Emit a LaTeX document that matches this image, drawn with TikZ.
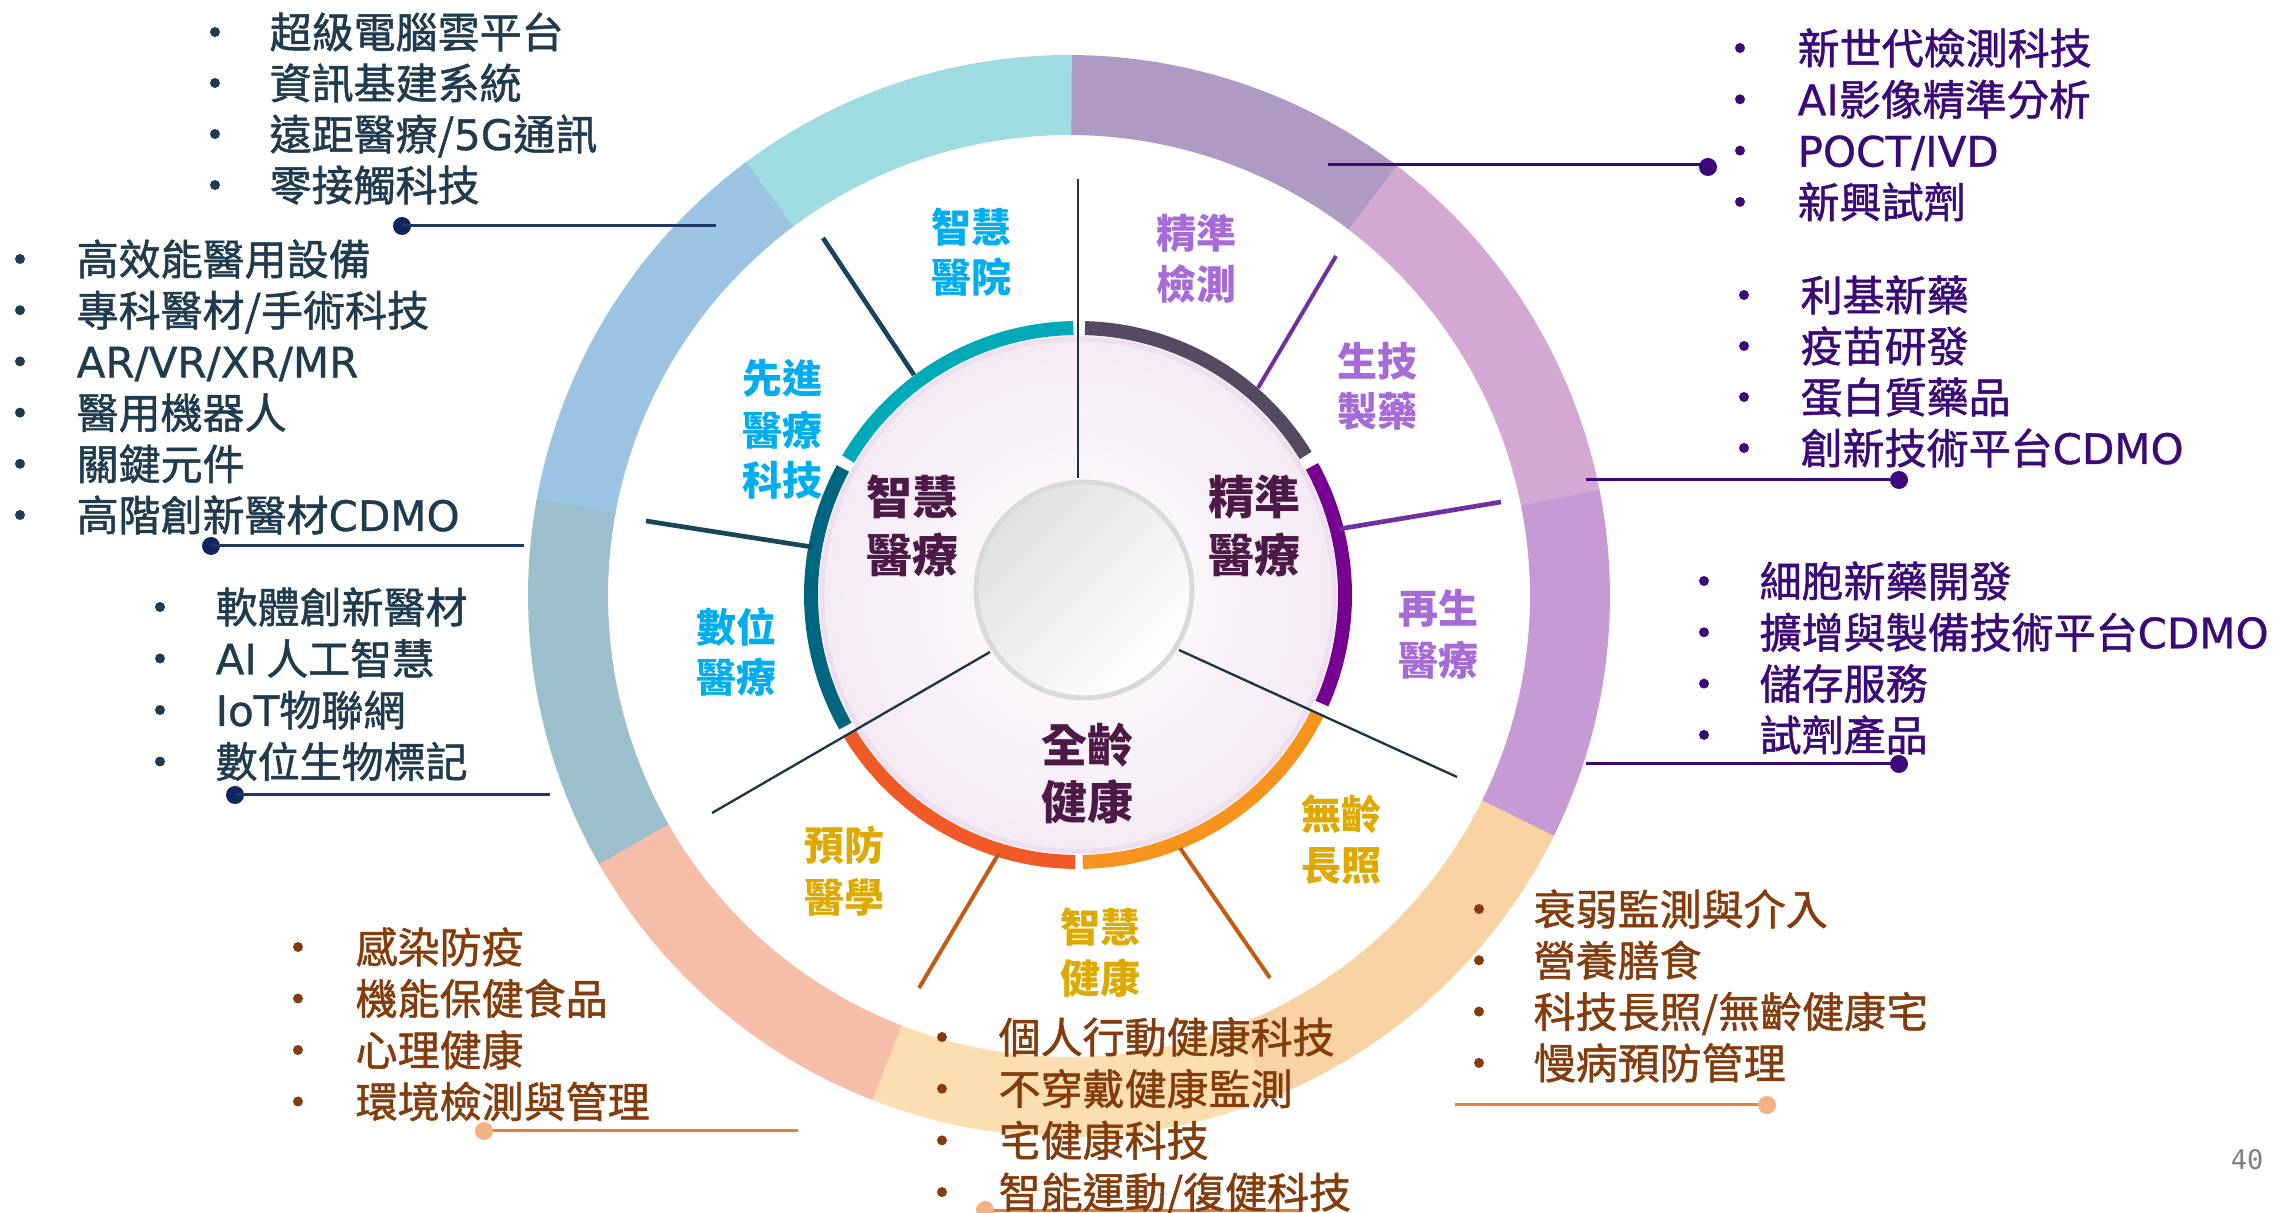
\documentclass[tikz,border=0pt]{standalone}
\usepackage{fontspec}
\setmainfont{Noto Sans CJK TC}
\newfontfamily\cjk{Noto Sans CJK TC}
\newfontfamily\cjkm{Noto Sans CJK TC}[FakeBold=1.2]
\newfontfamily\lat{DejaVu Sans}[FakeBold=0.8]
\newfontfamily\pgn{DejaVu Sans Mono}
\definecolor{sA}{HTML}{D3A8D2}
\definecolor{sB}{HTML}{AF9AC4}
\definecolor{sC}{HTML}{9EDCE2}
\definecolor{sD}{HTML}{9CC4E2}
\definecolor{sE}{HTML}{9BBFCB}
\definecolor{sF}{HTML}{F6BDA8}
\definecolor{sG}{HTML}{FDDEB1}
\definecolor{sH}{HTML}{FAD3A5}
\definecolor{sI}{HTML}{C59AD5}
\definecolor{slate}{HTML}{1F3B4D}
\definecolor{navyln}{HTML}{1F3864}
\definecolor{navydot}{HTML}{0D2660}
\definecolor{indigo}{HTML}{3C0A78}
\definecolor{brown}{HTML}{843C0C}
\definecolor{orln}{HTML}{ED7D31}
\definecolor{salm}{HTML}{F4B183}
\definecolor{labc}{HTML}{00AEEF}
\definecolor{labp}{HTML}{A66BD6}
\definecolor{labg}{HTML}{DEA900}
\definecolor{plum}{HTML}{4D1A47}
\definecolor{teald}{HTML}{17465A}
\definecolor{thinln}{HTML}{1E3446}
\definecolor{purln}{HTML}{7030A0}
\definecolor{brln}{HTML}{C55A11}
\definecolor{aCy}{HTML}{00A9B7}
\definecolor{aTe}{HTML}{006680}
\definecolor{aRe}{HTML}{F05A28}
\definecolor{aOr}{HTML}{F7941D}
\definecolor{aPu}{HTML}{750092}
\definecolor{aSl}{HTML}{564A62}
\tikzset{
  lst/.style={anchor=west, inner sep=0pt, font=\cjkm\fontsize{12.6pt}{15pt}\selectfont, text height=11.1pt, text depth=1.5pt},
  lab/.style={inner sep=0pt, font=\cjk\bfseries\fontsize{12pt}{14pt}\selectfont, text height=10.56pt, text depth=1.44pt},
  mid/.style={inner sep=0pt, font=\cjk\bfseries\fontsize{13.8pt}{16pt}\selectfont, text height=12.14pt, text depth=1.66pt, text=plum},
  cdot/.style={circle, inner sep=0pt, minimum size=5.4pt},
  conn/.style={line width=0.9pt},
  thinl/.style={line width=0.7pt, thinln},
  thickl/.style={line width=1.4pt},
}
\newcommand\mklist[7]{%
  \foreach \itm [count=\i from 0] in {#7}{
    \fill[#2] (#3, #5+#6*\i) circle[radius=5];
    \node[lst, text=#2] (#1\i) at (#4, #5+#6*\i) {\itm};
  }
}
\begin{document}
\begin{tikzpicture}[x=0.3pt, y=-0.3pt]
\useasboundingbox (0,0) rectangle (2282,1213);
\fill[white] (0,0) rectangle (2282,1213);
% outer ring
\begin{scope}[shift={(1069,596)}, yscale=-1]
  \foreach \a/\b/\c in {10.7/53.3/sA, 52.7/90.3/sB, 89.7/127.3/sC, 126.7/170.3/sD, 169.7/210.3/sE, 209.7/249.3/sF, 248.7/292.3/sG, 291.7/334.3/sH, 333.7/371.3/sI}{
    \fill[\c] plot[domain=\a:\b, samples=40] (\x:541) -- plot[domain=\b:\a, samples=40] (\x:461) -- cycle;
  }
\end{scope}
% inner disc and arcs
\begin{scope}[shift={(1078,595)}, yscale=-1]
  \shade[inner color=white, outer color=black!3!violet!8] (0,0) circle[radius=259];
  \draw[line width=1.4pt, color=violet!13] (0,0) circle[radius=256];
  \draw[line width=4.2pt, aCy] plot[domain=91:149.4, samples=40] (\x:267);
  \draw[line width=4.2pt, aTe] plot[domain=151.7:209.4, samples=40] (\x:267);
  \draw[line width=4.2pt, aRe] plot[domain=211.3:269.4, samples=40] (\x:267);
  \draw[line width=4.2pt, aOr] plot[domain=271:333.5, samples=40] (\x:267);
  \draw[line width=4.2pt, aPu] plot[domain=336:388.8, samples=40] (\x:267);
  \draw[line width=4.2pt, aSl] plot[domain=31.5:88.5, samples=40] (\x:267);
\end{scope}
% radial lines
\coordinate (v1) at (1078,179); \coordinate (v2) at (1078,478);
\coordinate (ul1) at (823,238); \coordinate (ul2) at (914,375);
\coordinate (l1) at (646,521); \coordinate (l2) at (812,547);
\coordinate (ll1) at (712,813); \coordinate (ll2) at (990,652);
\coordinate (b11) at (919,988); \coordinate (b12) at (999,853);
\coordinate (b21) at (1270,978); \coordinate (b22) at (1180,848);
\coordinate (rl1) at (1457,777); \coordinate (rl2) at (1179,650);
\coordinate (r1) at (1501,502); \coordinate (r2) at (1339,529);
\coordinate (ur1) at (1336,256); \coordinate (ur2) at (1258,388);
\draw[thinl] (v1) -- (v2);
\draw[thinl] (ll1) -- (ll2);
\draw[thinl] (rl1) -- (rl2);
\draw[thickl, teald] (ul1) -- (ul2);
\draw[thickl, teald] (l1) -- (l2);
\draw[thickl, line width=1.2pt, brln] (b11) -- (b12);
\draw[thickl, line width=1.2pt, brln] (b21) -- (b22);
\draw[thickl, purln] (r1) -- (r2);
\draw[thickl, line width=1.2pt, purln] (ur1) -- (ur2);
% centre white disc
\shade[top color=black!12, bottom color=white, shading angle=45] (1084,590) circle[radius=108];
\draw[line width=1.5pt, black!15] (1084,590) circle[radius=108];
% inner labels
\node[mid] (m1) at (912,497) {智慧};
\node[mid] (m2) at (912,555) {醫療};
\node[mid] (m3) at (1254,497) {精準};
\node[mid] (m4) at (1254,555) {醫療};
\node[mid] (m5) at (1087,745) {全齡};
\node[mid] (m6) at (1087,802) {健康};
% category labels
\node[lab, text=labc] (c1) at (971,227) {智慧};
\node[lab, text=labc] (c2) at (971,277) {醫院};
\node[lab, text=labp] (c3) at (1196,233) {精準};
\node[lab, text=labp] (c4) at (1196,284) {檢測};
\node[lab, text=labp] (c5) at (1377,361) {生技};
\node[lab, text=labp] (c6) at (1377,411) {製藥};
\node[lab, text=labc] (c7) at (782,378) {先進};
\node[lab, text=labc] (c8) at (782,430) {醫療};
\node[lab, text=labc] (c9) at (782,480) {科技};
\node[lab, text=labc] (c10) at (736,627) {數位};
\node[lab, text=labc] (c11) at (736,677) {醫療};
\node[lab, text=labp] (c12) at (1438,608) {再生};
\node[lab, text=labp] (c13) at (1438,660) {醫療};
\node[lab, text=labg] (c14) at (844,845) {預防};
\node[lab, text=labg] (c15) at (844,897) {醫學};
\node[lab, text=labg] (c16) at (1100,927) {智慧};
\node[lab, text=labg] (c17) at (1100,978) {健康};
\node[lab, text=labg] (c18) at (1341,814) {無齡};
\node[lab, text=labg] (c19) at (1341,865) {長照};
% connectors
\node[cdot, fill=navydot] (d1) at (402,226) {}; \coordinate (e1) at (716,226);
\draw[conn, navyln] (d1.center) -- (e1);
\node[cdot, fill=navydot] (d2) at (211,546) {}; \coordinate (e2) at (524,546);
\draw[conn, navyln] (d2.center) -- (e2);
\node[cdot, fill=navydot] (d3) at (235,795) {}; \coordinate (e3) at (550,795);
\draw[conn, navyln] (d3.center) -- (e3);
\coordinate (e4) at (798,1131);
\draw[conn, orln] (484,1131) coordinate (s4) -- (e4);
\node[cdot, fill=salm] (d4) at (s4) {};
\coordinate (e5) at (1300,1210);
\draw[conn, orln] (985,1210) coordinate (s5) -- (e5);
\node[cdot, fill=salm] (d5) at (s5) {};
\coordinate (e6) at (1455,1105);
\draw[conn, orln] (e6) -- (1767,1105) coordinate (s6);
\node[cdot, fill=salm] (d6) at (s6) {};
\coordinate (e7) at (1586,764);
\node[cdot, fill=indigo] (d7) at (1899,764) {};
\draw[conn, indigo] (e7) -- (d7.center);
\coordinate (e8) at (1586,480);
\node[cdot, fill=indigo] (d8) at (1899,480) {};
\draw[conn, indigo] (e8) -- (d8.center);
\coordinate (e9) at (1328,165);
\node[cdot, fill=indigo] (d9) at (1708,167) {};
\draw[conn, indigo] (e9) -- (1708,165);
% lists
\mklist{tl}{slate}{215}{269}{32}{51}{超級電腦雲平台,資訊基建系統,遠距醫療/{\lat 5G}通訊,零接觸科技}
\mklist{ls}{slate}{20}{76}{259}{51.2}{高效能醫用設備,專科醫材/手術科技,{\lat AR/VR/XR/MR},醫用機器人,關鍵元件,高階創新醫材{\lat CDMO}}
\mklist{lt}{slate}{160}{215}{607}{51.5}{軟體創新醫材,{\lat AI} 人工智慧,{\lat IoT}物聯網,數位生物標記}
\mklist{bl}{brown}{298}{355}{947}{51.5}{感染防疫,機能保健食品,心理健康,環境檢測與管理}
\mklist{bc}{brown}{942}{998}{1037}{51.7}{個人行動健康科技,不穿戴健康監測,宅健康科技,智能運動/復健科技}
\mklist{br}{brown}{1479}{1533}{909}{51.3}{衰弱監測與介入,營養膳食,科技長照/無齡健康宅,慢病預防管理}
\mklist{rt}{indigo}{1704}{1759}{581}{51.3}{細胞新藥開發,擴增與製備技術平台{\lat CDMO},儲存服務,試劑產品}
\mklist{rs}{indigo}{1744}{1800}{295}{51}{利基新藥,疫苗研發,蛋白質藥品,創新技術平台{\lat CDMO}}
\mklist{tr}{indigo}{1740}{1797}{48}{51.3}{新世代檢測科技,{\lat AI}影像精準分析,{\lat POCT/IVD},新興試劑}
% page number
\node[inner sep=0pt, font=\pgn\fontsize{8.1pt}{9pt}\selectfont, text=black!50] (pg) at (2247,1160) {40};
\end{tikzpicture}
\end{document}
